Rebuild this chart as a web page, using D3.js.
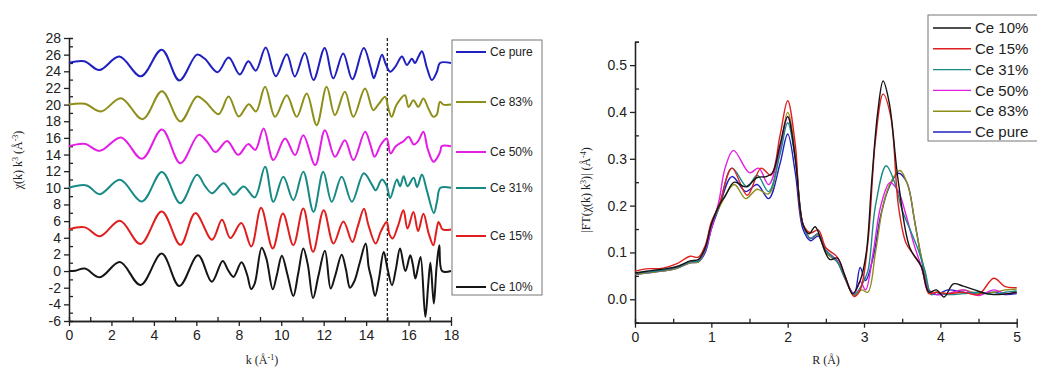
<!DOCTYPE html>
<html>
<head>
<meta charset="utf-8">
<script src="https://cdn.jsdelivr.net/npm/d3@7"></script>
<style>
  body { margin: 0; background: #fff; }
  svg { display: block; }
  .tick text { font-family: Arial, "Liberation Sans", sans-serif; }
</style>
</head>
<body>
<svg id="chart" width="1037" height="372"></svg>
<script>
// ---- data: left panel, k-space chi(k)k^3 ----
const samples = ['Ce 10%', 'Ce 15%', 'Ce 31%', 'Ce 50%', 'Ce 83%', 'Ce pure'];
const colors = ['#151515', '#e01e1e', '#188a86', '#e41de4', '#8e8e1a', '#2020c0'];
const offsets = [0, 5, 10, 15, 20, 25];

const kTen = [0, 0.3, 0.75, 1.45, 2.4, 3.37, 4.37, 5.2, 6.08, 6.73, 7.24, 7.5, 7.75, 8.13, 8.4, 8.58, 8.75, 9.08, 9.3, 9.6, 9.8, 10.03, 10.3, 10.57, 10.8, 11.04, 11.25, 11.5, 11.75, 12.06, 12.33, 12.55, 12.85, 13.05, 13.24, 13.45, 13.7, 13.98, 14.12, 14.25, 14.42, 14.6, 14.83, 15.0, 15.22, 15.4, 15.6, 15.85, 16.08, 16.2, 16.32, 16.45, 16.57, 16.79, 16.93, 17.03, 17.19, 17.32, 17.45, 17.58, 18];
const chiTen = [0, 0.05, 0.3, -0.75, 1.08, -1.68, 2.1, -1.8, 1.9, -1.28, 1.22, 0.1, -0.7, 1.06, -0.5, -2.15, -1.5, 2.8, 1.5, -2.2, -0.4, 1.85, -0.5, -3.0, -0.3, 2.7, 0.8, -3.25, -0.6, 2.45, -2.1, -0.5, 1.95, 0.2, -2.0, -1.2, 1.0, 3.3, 0.5, -0.9, -3.0, -1.0, 2.3, 0.4, -1.7, 0.2, 2.7, 0.0, 1.9, 0.8, -0.9, 0.5, 1.7, -5.5, -1.5, 1.0, -3.9, 0.5, 3.1, 0, 0];

const kFifteen = [0, 0.75, 1.45, 2.4, 3.37, 4.37, 5.25, 5.95, 6.74, 7.21, 7.6, 8.12, 8.59, 9.05, 9.6, 10.08, 10.57, 11.04, 11.5, 12.0, 12.46, 12.93, 13.35, 13.6, 13.9, 14.1, 14.45, 14.7, 14.97, 15.1, 15.25, 15.5, 15.76, 15.95, 16.23, 16.45, 16.7, 16.95, 17.17, 17.3, 17.41, 17.5, 17.6, 18];
const chiFifteen = [0, 0.25, -0.83, 1.04, -1.76, 2.16, -1.84, 1.96, -1.24, 1.16, -1.04, 0.76, -2.04, 2.6, -2.28, 1.92, -1.88, 2.52, -2.68, 2.32, -1.68, 0.95, -1.5, 0.3, 2.5, 0.6, -1.7, -0.2, 0.9, -0.6, -1.1, 0.4, 2.3, 0.1, 2.1, -0.2, 1.9, -0.5, -1.9, -0.3, 0.9, 0.5, 0, 0];

const kThirtyOne = [0, 0.83, 1.45, 2.4, 3.44, 4.38, 5.25, 6.03, 6.42, 6.74, 7.29, 7.76, 8.23, 8.75, 9.24, 9.63, 10.1, 10.57, 11.04, 11.52, 11.98, 12.38, 12.85, 13.33, 13.89, 14.28, 14.45, 14.75, 14.98, 15.13, 15.45, 15.6, 15.77, 15.95, 16.24, 16.4, 16.63, 16.87, 17.19, 17.34, 17.5, 18];
const chiThirtyOne = [0, 0.29, -0.76, 0.96, -1.63, 1.9, -1.84, 1.56, 0.17, -0.64, 0.56, -0.84, 0.17, -1.15, 2.52, -1.68, 1.33, -1.48, 1.93, -2.88, 1.93, -1.68, 1.33, -1.68, 1.76, 0.36, -0.3, 1.0, 0.2, -1.24, 1.0, 0.2, 1.4, 0.2, 1.2, 0.1, 1.6, -0.4, -3.04, -1.64, 0, 0];

const kFifty = [0, 0.75, 1.45, 2.45, 3.44, 4.38, 5.25, 6.11, 6.5, 6.9, 7.45, 7.97, 8.44, 8.78, 9.17, 9.63, 10.18, 10.65, 11.04, 11.6, 12.06, 12.53, 13.0, 13.4, 13.95, 14.2, 14.4, 14.7, 14.97, 15.15, 15.4, 15.76, 16.0, 16.25, 16.45, 16.7, 16.9, 17.17, 17.35, 17.5, 17.56, 18];
const chiFifty = [0, 0.28, -0.56, 1.05, -1.52, 2.0, -2.04, 1.36, 0.57, -0.71, 0.64, -1.04, 0.25, -0.44, 2.13, -1.67, 0.93, -1.07, 1.33, -2.27, 1.93, -1.27, 0.73, -1.67, 1.73, 0.2, -1.27, 0.2, 0.93, -0.87, 0.0, 0.6, 1.13, 0.2, 0.6, 1.73, -0.3, -1.87, -1.4, -0.6, 0, 0];

const kEightyThree = [0, 0.75, 1.51, 2.45, 3.47, 4.38, 5.25, 6.03, 6.42, 7.05, 7.52, 8.0, 8.47, 8.81, 9.24, 9.71, 10.26, 10.73, 11.2, 11.67, 12.14, 12.53, 13.0, 13.4, 13.95, 14.34, 14.6, 14.9, 15.05, 15.2, 15.44, 15.83, 16.0, 16.23, 16.46, 16.7, 16.94, 17.17, 17.33, 17.48, 17.64, 18];
const chiEightyThree = [0, 0.1, -0.83, 0.77, -1.75, 1.6, -2.03, 0.97, 0.37, -1.15, 0.97, -1.43, 0.05, -0.83, 2.13, -1.47, 1.13, -1.47, 1.33, -2.47, 2.13, -1.27, 1.53, -1.47, 1.93, -0.67, 0.1, 0.93, -0.47, -1.47, 0.0, 1.13, -0.3, 0.53, -0.27, 0.73, -0.5, -1.47, -1.2, 0.33, 0, 0];

const kPure = [0, 0.72, 1.43, 2.37, 3.39, 4.37, 5.2, 6.03, 6.4, 7.0, 7.52, 8.05, 8.45, 8.8, 9.27, 9.74, 10.26, 10.64, 11.11, 11.52, 12.05, 12.45, 12.92, 13.35, 13.89, 14.2, 14.36, 14.51, 14.75, 14.91, 15.13, 15.38, 15.69, 15.92, 16.16, 16.3, 16.47, 16.63, 16.87, 17.1, 17.34, 17.48, 18];
const chiPure = [0, 0.2, -0.85, 0.77, -1.6, 1.6, -2.1, 1.0, 0.5, -1.1, 0.65, -1.38, 0.2, -0.92, 1.85, -1.6, 1.05, -1.62, 1.2, -2.05, 1.8, -1.85, 1.15, -1.95, 1.8, -0.43, -1.83, -0.83, 1.0, -0.03, -1.05, -0.43, 0.77, -0.23, 0.5, 0.0, 0.77, 1.4, -0.63, -2.05, -1.03, 0, 0];

// ---- data: right panel, |FT| in R-space ----
const rTen = [0, 0.15, 0.35, 0.55, 0.72, 0.83, 0.92, 1.0, 1.1, 1.18, 1.3, 1.45, 1.6, 1.72, 1.8, 1.9, 2.0, 2.1, 2.2, 2.28, 2.36, 2.45, 2.55, 2.65, 2.75, 2.85, 2.95, 3.03, 3.1, 3.18, 3.25, 3.33, 3.45, 3.6, 3.75, 3.85, 3.95, 4.05, 4.17, 4.3, 4.45, 4.6, 4.75, 4.9, 5];
const ftTen = [0.056, 0.06, 0.064, 0.07, 0.082, 0.085, 0.11, 0.16, 0.2, 0.22, 0.25, 0.24, 0.26, 0.262, 0.27, 0.33, 0.39, 0.3, 0.16, 0.14, 0.155, 0.12, 0.085, 0.088, 0.05, 0.012, 0.04, 0.1, 0.25, 0.4, 0.466, 0.42, 0.25, 0.11, 0.07, 0.015, 0.02, 0.005, 0.033, 0.028, 0.02, 0.012, 0.01, 0.012, 0.015];

const rFifteen = [0, 0.15, 0.35, 0.55, 0.72, 0.83, 0.92, 1.0, 1.1, 1.27, 1.47, 1.65, 1.78, 1.9, 2.0, 2.1, 2.2, 2.3, 2.4, 2.5, 2.65, 2.75, 2.87, 2.95, 3.05, 3.15, 3.25, 3.35, 3.45, 3.55, 3.65, 3.75, 3.85, 3.95, 4.1, 4.3, 4.5, 4.7, 4.85, 5];
const ftFifteen = [0.06, 0.065, 0.066, 0.076, 0.092, 0.09, 0.115, 0.165, 0.2, 0.28, 0.222, 0.28, 0.265, 0.35, 0.424, 0.33, 0.16, 0.142, 0.148, 0.11, 0.09, 0.05, 0.006, 0.02, 0.12, 0.34, 0.438, 0.39, 0.2, 0.12, 0.095, 0.07, 0.012, 0.015, 0.012, 0.015, 0.01, 0.045, 0.027, 0.025];

const rThirtyOne = [0, 0.15, 0.35, 0.55, 0.72, 0.83, 0.92, 1.0, 1.1, 1.27, 1.47, 1.6, 1.75, 1.9, 2.0, 2.1, 2.2, 2.3, 2.4, 2.5, 2.65, 2.75, 2.87, 2.97, 3.05, 3.15, 3.29, 3.4, 3.5, 3.6, 3.7, 3.8, 3.88, 3.95, 4.1, 4.3, 4.5, 4.7, 4.85, 5];
const ftThirtyOne = [0.056, 0.058, 0.062, 0.068, 0.08, 0.082, 0.108, 0.16, 0.198, 0.28, 0.24, 0.265, 0.23, 0.31, 0.377, 0.3, 0.16, 0.13, 0.14, 0.105, 0.08, 0.045, 0.01, 0.03, 0.06, 0.2, 0.285, 0.25, 0.19, 0.15, 0.11, 0.06, 0.01, 0.015, 0.01, 0.012, 0.015, 0.01, 0.015, 0.018];

const rFifty = [0, 0.15, 0.35, 0.55, 0.72, 0.83, 0.92, 1.0, 1.1, 1.18, 1.29, 1.5, 1.62, 1.75, 1.9, 2.0, 2.1, 2.2, 2.3, 2.4, 2.5, 2.65, 2.75, 2.87, 2.95, 3.02, 3.12, 3.22, 3.34, 3.45, 3.55, 3.65, 3.75, 3.85, 3.95, 4.1, 4.3, 4.5, 4.7, 4.85, 5];
const ftFifty = [0.056, 0.058, 0.062, 0.068, 0.08, 0.082, 0.105, 0.15, 0.21, 0.28, 0.318, 0.27, 0.28, 0.245, 0.32, 0.39, 0.3, 0.16, 0.13, 0.14, 0.105, 0.082, 0.045, 0.012, 0.038, 0.02, 0.1, 0.2, 0.249, 0.23, 0.18, 0.12, 0.07, 0.02, 0.01, 0.012, 0.02, 0.008, 0.02, 0.012, 0.015];

const rEightyThree = [0, 0.15, 0.35, 0.55, 0.72, 0.83, 0.92, 1.0, 1.1, 1.3, 1.45, 1.6, 1.75, 1.9, 2.0, 2.1, 2.2, 2.3, 2.4, 2.5, 2.65, 2.75, 2.87, 2.97, 3.05, 3.15, 3.25, 3.35, 3.47, 3.58, 3.68, 3.78, 3.88, 3.95, 4.1, 4.3, 4.5, 4.7, 4.85, 5];
const ftEightyThree = [0.054, 0.056, 0.06, 0.066, 0.078, 0.08, 0.105, 0.158, 0.195, 0.245, 0.215, 0.235, 0.225, 0.32, 0.399, 0.31, 0.16, 0.13, 0.138, 0.1, 0.08, 0.045, 0.008, 0.02, 0.015, 0.1, 0.2, 0.25, 0.275, 0.24, 0.15, 0.07, 0.012, 0.015, 0.012, 0.02, 0.012, 0.015, 0.02, 0.022];

const rPure = [0, 0.15, 0.35, 0.55, 0.72, 0.83, 0.92, 1.0, 1.1, 1.27, 1.45, 1.6, 1.75, 1.9, 2.0, 2.1, 2.2, 2.3, 2.4, 2.5, 2.65, 2.75, 2.87, 2.95, 3.02, 3.12, 3.22, 3.33, 3.45, 3.56, 3.66, 3.76, 3.86, 3.95, 4.1, 4.3, 4.5, 4.7, 4.85, 5];
const ftPure = [0.053, 0.056, 0.06, 0.066, 0.078, 0.08, 0.1, 0.15, 0.195, 0.262, 0.23, 0.245, 0.215, 0.29, 0.353, 0.27, 0.15, 0.125, 0.135, 0.1, 0.08, 0.045, 0.01, 0.068, 0.04, 0.09, 0.18, 0.24, 0.269, 0.25, 0.17, 0.08, 0.015, 0.01, 0.02, 0.015, 0.012, 0.015, 0.01, 0.012];

const kSeries = [[kTen, chiTen], [kFifteen, chiFifteen], [kThirtyOne, chiThirtyOne], [kFifty, chiFifty], [kEightyThree, chiEightyThree], [kPure, chiPure]];
const rSeries = [[rTen, ftTen], [rFifteen, ftFifteen], [rThirtyOne, ftThirtyOne], [rFifty, ftFifty], [rEightyThree, ftEightyThree], [rPure, ftPure]];

const svg = d3.select('#chart');

// ================= left panel =================
const xK = d3.scaleLinear().domain([0, 18]).range([69, 451]);
const yK = d3.scaleLinear().domain([-6, 28]).range([321, 38]);

const left = svg.append('g');

// plain hyphen minus like the source, not d3's U+2212
const plainInt = d => String(d);

const xAxisK = d3.axisBottom(xK).tickValues(d3.range(0, 19, 2)).tickFormat(plainInt).tickSizeInner(5).tickSizeOuter(0).tickPadding(4);
const xMinorK = d3.axisBottom(xK).tickValues(d3.range(1, 18, 2)).tickSize(-4).tickFormat('');
const yAxisK = d3.axisLeft(yK).tickValues(d3.range(-6, 29, 2)).tickFormat(plainInt).tickSizeInner(5).tickSizeOuter(0).tickPadding(3);
const yMinorK = d3.axisLeft(yK).tickValues(d3.range(-5, 28, 2)).tickSize(-4).tickFormat('');

function styleAxis(g, fs) {
  g.selectAll('path, line').attr('stroke', '#222').attr('stroke-width', 1.3);
  g.selectAll('text').attr('fill', '#222').style('font-size', fs);
}

left.append('g').attr('transform', 'translate(0,321)').call(xAxisK).call(styleAxis, '14px');
left.append('g').attr('transform', 'translate(0,321)').call(xMinorK).call(styleAxis, '14px');
left.append('g').attr('transform', 'translate(69,0)').call(yAxisK).call(styleAxis, '14px');
left.append('g').attr('transform', 'translate(69,0)').call(yMinorK).call(styleAxis, '14px');

// dashed marker at k = 15
left.append('line')
  .attr('x1', xK(15)).attr('x2', xK(15))
  .attr('y1', yK(28)).attr('y2', yK(-6))
  .attr('stroke', '#111').attr('stroke-width', 1.2)
  .attr('stroke-dasharray', '3,2');

const lineK = d3.line().curve(d3.curveCatmullRom.alpha(0.5));

kSeries.forEach(([ks, chis], i) => {
  const pts = ks.map((k, j) => [xK(k), yK(chis[j] + offsets[i])]);
  left.append('path')
    .attr('d', lineK(pts))
    .attr('fill', 'none')
    .attr('stroke', colors[i])
    .attr('stroke-width', 2);
});

// left legend
const legLeftY = [287, 236, 188, 152, 102, 52];
left.append('rect')
  .attr('x', 452).attr('y', 40).attr('width', 90).attr('height', 255)
  .attr('fill', '#fff').attr('stroke', '#777').attr('stroke-width', 1);
samples.forEach((s, i) => {
  left.append('line')
    .attr('x1', 456).attr('x2', 486)
    .attr('y1', legLeftY[i]).attr('y2', legLeftY[i])
    .attr('stroke', colors[i]).attr('stroke-width', 2);
  left.append('text')
    .attr('x', 490).attr('y', legLeftY[i])
    .attr('dy', '0.35em')
    .style('font-family', 'Arial, "Liberation Sans", sans-serif')
    .style('font-size', '12px')
    .attr('fill', '#222')
    .text(s);
});

// left titles
left.append('text')
  .attr('transform', 'translate(22,160) rotate(-90)')
  .attr('text-anchor', 'middle')
  .style('font-family', '"Liberation Serif", "Times New Roman", serif')
  .style('font-size', '12px')
  .attr('fill', '#222')
  .html('χ(k) k<tspan baseline-shift="super" font-size="8px">3</tspan> (Å<tspan baseline-shift="super" font-size="8px">-3</tspan>)');

left.append('text')
  .attr('x', 262).attr('y', 364)
  .attr('text-anchor', 'middle')
  .style('font-family', '"Liberation Serif", "Times New Roman", serif')
  .style('font-size', '12px')
  .attr('fill', '#222')
  .html('k (Å<tspan baseline-shift="super" font-size="8px">-1</tspan>)');

// ================= right panel =================
const xR = d3.scaleLinear().domain([0, 5]).range([635, 1016.7]);
const yR = d3.scaleLinear().domain([-0.05, 0.55]).range([322.7, 41.7]);

const right = svg.append('g');

const xAxisR = d3.axisBottom(xR).tickValues(d3.range(0, 6, 1)).tickFormat(plainInt).tickSizeInner(5).tickSizeOuter(0).tickPadding(4);
const xMinorR = d3.axisBottom(xR).tickValues([0.5, 1.5, 2.5, 3.5, 4.5]).tickSize(-4).tickFormat('');
const yAxisR = d3.axisLeft(yR).tickValues([0, 0.1, 0.2, 0.3, 0.4, 0.5]).tickFormat(d => d.toFixed(1)).tickSizeInner(5).tickSizeOuter(0).tickPadding(3);
const yMinorR = d3.axisLeft(yR).tickValues([-0.05, 0.05, 0.15, 0.25, 0.35, 0.45, 0.55]).tickSize(-4).tickFormat('');

right.append('g').attr('transform', 'translate(0,322.7)').call(xAxisR).call(styleAxis, '14px');
right.append('g').attr('transform', 'translate(0,322.7)').call(xMinorR).call(styleAxis, '14px');
right.append('g').attr('transform', 'translate(635,0)').call(yAxisR).call(styleAxis, '14px');
right.append('g').attr('transform', 'translate(635,0)').call(yMinorR).call(styleAxis, '14px');

const lineR = d3.line().curve(d3.curveCatmullRom.alpha(0.5));
// draw back to front so black/red sit on top like the source
[5, 4, 3, 2, 1, 0].forEach(i => {
  const [rs, fts] = rSeries[i];
  right.append('path')
    .attr('d', lineR(rs.map((r, j) => [xR(r), yR(fts[j])])))
    .attr('fill', 'none')
    .attr('stroke', colors[i])
    .attr('stroke-width', 1.4);
});

// right legend
right.append('rect')
  .attr('x', 928).attr('y', 15).attr('width', 120).attr('height', 126)
  .attr('fill', '#fff').attr('stroke', '#777').attr('stroke-width', 1);
samples.forEach((s, i) => {
  const y = 28 + i * 20.8;
  right.append('line')
    .attr('x1', 933).attr('x2', 971)
    .attr('y1', y).attr('y2', y)
    .attr('stroke', colors[i]).attr('stroke-width', 1.4);
  right.append('text')
    .attr('x', 975).attr('y', y)
    .attr('dy', '0.35em')
    .style('font-family', 'Arial, "Liberation Sans", sans-serif')
    .style('font-size', '15px')
    .attr('fill', '#222')
    .text(s);
});

right.append('text')
  .attr('transform', 'translate(590,190) rotate(-90)')
  .attr('text-anchor', 'middle')
  .style('font-family', '"Liberation Serif", "Times New Roman", serif')
  .style('font-size', '12px')
  .attr('fill', '#222')
  .html('|FT(χ(k) k<tspan baseline-shift="super" font-size="8px">3</tspan>)| (Å<tspan baseline-shift="super" font-size="8px">-4</tspan>)');

right.append('text')
  .attr('x', 826).attr('y', 364)
  .attr('text-anchor', 'middle')
  .style('font-family', '"Liberation Serif", "Times New Roman", serif')
  .style('font-size', '12px')
  .attr('fill', '#222')
  .text('R (Å)');
</script>
</body>
</html>
